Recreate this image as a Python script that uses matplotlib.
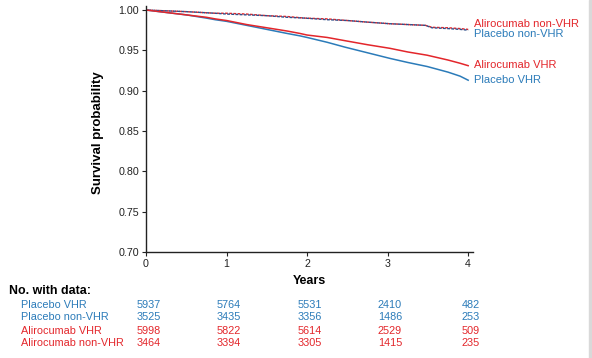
import numpy as np
import matplotlib
matplotlib.use('Agg')
import matplotlib.pyplot as plt
import matplotlib.transforms as mtransforms
from matplotlib.patches import Rectangle

plt.rcParams['font.family'] = ['Liberation Sans', 'DejaVu Sans']

# # curves (years, survival probability)
t_vhr = [0, 0.25, 0.5, 0.75, 0.86, 1.0, 1.25, 1.5, 1.75, 1.91, 2.0, 2.25, 2.47,
         2.75, 3.03, 3.25, 3.49, 3.75, 3.9, 4.0]
plc_vhr = [1.0, 0.997, 0.994, 0.990, 0.988, 0.986, 0.981, 0.976, 0.971, 0.968, 0.966,
           0.960, 0.954, 0.947, 0.940, 0.935, 0.930, 0.923, 0.918, 0.913]
ali_vhr = [1.0, 0.997, 0.994, 0.991, 0.989, 0.987, 0.982, 0.978, 0.974, 0.971, 0.969,
           0.966, 0.962, 0.957, 0.9525, 0.948, 0.944, 0.938, 0.934, 0.931]

t_non = [0, 0.25, 0.5, 0.86, 1.0, 1.25, 1.5, 1.75, 1.97, 2.25, 2.5, 2.75, 3.03,
         3.25, 3.47, 3.55, 3.75, 3.9, 4.0]
plc_non = [1.0, 0.999, 0.998, 0.996, 0.995, 0.994, 0.993, 0.991, 0.990, 0.988, 0.987,
           0.985, 0.983, 0.982, 0.981, 0.978, 0.977, 0.976, 0.975]
ali_non = [1.0, 0.999, 0.998, 0.996, 0.996, 0.995, 0.993, 0.992, 0.990, 0.989, 0.987,
           0.985, 0.983, 0.982, 0.981, 0.9786, 0.978, 0.977, 0.976]

# # number with data
years = [0, 1, 2, 3, 4]
risk_labels = ['Placebo VHR', 'Placebo non-VHR', 'Alirocumab VHR', 'Alirocumab non-VHR']
risk_counts = [
    [5937, 5764, 5531, 2410, 482],
    [3525, 3435, 3356, 1486, 253],
    [5998, 5822, 5614, 2529, 509],
    [3464, 3394, 3305, 1415, 235],
]

red = '#e3262b'
blue = '#2b7bb9'
risk_cols = [blue, blue, red, red]

fig = plt.figure(figsize=(5.92, 3.58), dpi=100)
ax = fig.add_axes([146 / 592, 106 / 358, 327 / 592, 246 / 358])

ax.plot(t_non, ali_non, color=red, lw=1.0, ls=(0, (2, 1)))
ax.plot(t_non, plc_non, color='#2f4f8a', lw=1.0, ls=(1.5, (2, 1)))
ax.plot(t_vhr, plc_vhr, color=blue, lw=1.1)
ax.plot(t_vhr, ali_vhr, color=red, lw=1.1)

ax.set_xlim(0, 4.06)
ax.set_ylim(0.70, 1.005)
ax.set_xticks(years)
yt = [0.70, 0.75, 0.80, 0.85, 0.90, 0.95, 1.00]
ax.set_yticks(yt)
ax.set_yticklabels(['%.2f' % v for v in yt])
ax.tick_params(labelsize=7.7, length=3, width=0.8, colors='#222222', pad=2)
for s in ['top', 'right']:
    ax.spines[s].set_visible(False)
for s in ['left', 'bottom']:
    ax.spines[s].set_linewidth(1.0)
    ax.spines[s].set_color('#222222')

fig.text(97.5 / 592, 1 - 133 / 358, 'Survival probability', fontsize=9.5, fontweight='bold',
         rotation=90, ha='center', va='center')
fig.text(309 / 592, 1 - 281 / 358, 'Years', fontsize=9, fontweight='bold',
         ha='center', va='center')

# curve labels at the right
lab_kw = dict(fontsize=8, va='center', ha='left', clip_on=False)
ax.text(4.07, 0.9832, 'Alirocumab non-VHR', color=red, **lab_kw)
ax.text(4.07, 0.9708, 'Placebo non-VHR', color=blue, **lab_kw)
ax.text(4.07, 0.9324, 'Alirocumab VHR', color=red, **lab_kw)
ax.text(4.07, 0.9138, 'Placebo VHR', color=blue, **lab_kw)

# table
fig.text(9 / 592, 1 - 291 / 358, 'No. with data:', fontsize=8.9, fontweight='bold',
         va='center', ha='left')
trans = mtransforms.blended_transform_factory(ax.transData, fig.transFigure)
row_y = [305, 317.5, 330.5, 343.5]
for r, lab in enumerate(risk_labels):
    fig.text(21 / 592, 1 - row_y[r] / 358, lab, fontsize=7.8, color=risk_cols[r],
             va='center', ha='left')
    for c, yr in enumerate(years):
        ax.text(yr + 0.03, 1 - row_y[r] / 358, str(risk_counts[r][c]), transform=trans,
                fontsize=7.8, color=risk_cols[r], va='center', ha='center', clip_on=False)

fig.patches.append(Rectangle((589 / 592, 0), 3 / 592, 1, transform=fig.transFigure,
                             color='#d9d9d9', zorder=-1))

fig.savefig('out.png', dpi=100)
